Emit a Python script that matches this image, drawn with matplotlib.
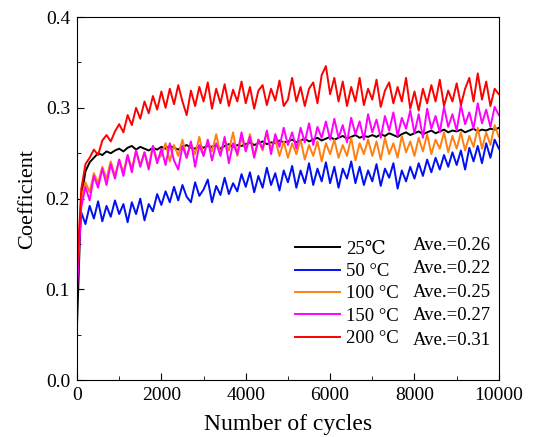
import matplotlib.pyplot as plt
import numpy as np
from matplotlib.ticker import MultipleLocator

plt.rcParams['font.family'] = ['Liberation Serif', 'DejaVu Serif']

# cycle positions of the read values (one reading every 100 cycles)
cycles = np.arange(0, 10001, 100)

labels = ['25\u2103', '50 \u00b0C', '100 \u00b0C', '150 \u00b0C', '200 \u00b0C']
averages = ['Ave.=0.26', 'Ave.=0.22', 'Ave.=0.25', 'Ave.=0.27', 'Ave.=0.31']
colors = ['black', '#0010f0', '#ff8010', '#ff00ff', '#ff0000']

c25 = [0.06, 0.20, 0.23, 0.24, 0.245, 0.25, 0.248, 0.252, 0.25, 0.253,
       0.255, 0.252, 0.256, 0.258, 0.254, 0.257, 0.255, 0.253, 0.256, 0.254,
       0.257, 0.255, 0.258, 0.256, 0.254, 0.257, 0.259, 0.256, 0.255, 0.258,
       0.256, 0.258, 0.257, 0.259, 0.255, 0.258, 0.26, 0.257, 0.259, 0.258,
       0.26, 0.262, 0.259, 0.261, 0.263, 0.26, 0.262, 0.261, 0.264, 0.262,
       0.263, 0.265, 0.262, 0.264, 0.266, 0.263, 0.265, 0.267, 0.264, 0.266,
       0.268, 0.265, 0.267, 0.269, 0.266, 0.268, 0.27, 0.267, 0.269, 0.268,
       0.27, 0.268, 0.271, 0.269, 0.272, 0.27, 0.268, 0.271, 0.273, 0.27,
       0.272, 0.274, 0.271, 0.273, 0.275, 0.272, 0.274, 0.276, 0.273, 0.275,
       0.274, 0.276, 0.273, 0.275, 0.277, 0.274, 0.276, 0.275, 0.277, 0.276,
       0.278]

c50 = [0.12, 0.185, 0.172, 0.192, 0.178, 0.197, 0.175, 0.192, 0.18, 0.198,
       0.183, 0.194, 0.174, 0.196, 0.183, 0.2, 0.176, 0.194, 0.186, 0.205,
       0.193, 0.208, 0.196, 0.213, 0.198, 0.215, 0.202, 0.196, 0.218, 0.203,
       0.21, 0.221, 0.196, 0.214, 0.204, 0.223, 0.205, 0.217, 0.208, 0.227,
       0.213, 0.229, 0.207, 0.225, 0.212, 0.234, 0.215, 0.228, 0.209, 0.231,
       0.218, 0.236, 0.212, 0.231, 0.217, 0.239, 0.215, 0.233, 0.219, 0.24,
       0.217, 0.235, 0.212, 0.233, 0.222, 0.241, 0.217, 0.235, 0.215, 0.231,
       0.219, 0.238, 0.214, 0.233, 0.223, 0.239, 0.211, 0.231, 0.219, 0.235,
       0.222, 0.239, 0.225, 0.243, 0.229, 0.245, 0.232, 0.248, 0.235, 0.251,
       0.237, 0.253, 0.232, 0.256, 0.241, 0.258, 0.239, 0.261, 0.245, 0.265,
       0.255]

c100 = [0.12, 0.2, 0.218, 0.207, 0.228, 0.217, 0.235, 0.222, 0.241, 0.225,
        0.243, 0.229, 0.248, 0.233, 0.253, 0.237, 0.251, 0.235, 0.258, 0.242,
        0.248, 0.261, 0.241, 0.259, 0.247, 0.265, 0.245, 0.261, 0.249, 0.268,
        0.247, 0.263, 0.252, 0.271, 0.249, 0.265, 0.253, 0.273, 0.247, 0.267,
        0.253, 0.271, 0.247, 0.265, 0.253, 0.273, 0.255, 0.265, 0.247, 0.263,
        0.245, 0.261, 0.249, 0.265, 0.243, 0.259, 0.247, 0.263, 0.241, 0.261,
        0.249, 0.265, 0.245, 0.259, 0.247, 0.267, 0.242, 0.261, 0.249, 0.265,
        0.247, 0.263, 0.243, 0.267, 0.249, 0.261, 0.245, 0.269, 0.251, 0.263,
        0.247, 0.267, 0.252, 0.271, 0.249, 0.265, 0.255, 0.273, 0.251, 0.269,
        0.255, 0.273, 0.253, 0.269, 0.257, 0.278, 0.255, 0.273, 0.259, 0.281,
        0.268]

c150 = [0.1, 0.19, 0.213, 0.198, 0.225, 0.212, 0.233, 0.215, 0.238, 0.222,
        0.243, 0.225, 0.248, 0.229, 0.253, 0.235, 0.251, 0.232, 0.258, 0.239,
        0.255, 0.237, 0.261, 0.242, 0.232, 0.258, 0.245, 0.263, 0.235, 0.259,
        0.247, 0.265, 0.242, 0.261, 0.247, 0.268, 0.239, 0.261, 0.249, 0.273,
        0.252, 0.268, 0.245, 0.265, 0.255, 0.275, 0.249, 0.271, 0.257, 0.278,
        0.259, 0.273, 0.255, 0.278, 0.262, 0.283, 0.259, 0.279, 0.267, 0.285,
        0.265, 0.288, 0.267, 0.281, 0.262, 0.289, 0.271, 0.285, 0.265, 0.293,
        0.273, 0.287, 0.267, 0.291, 0.275, 0.295, 0.269, 0.289, 0.277, 0.297,
        0.272, 0.293, 0.267, 0.299, 0.277, 0.291, 0.273, 0.301, 0.279, 0.293,
        0.275, 0.303, 0.282, 0.295, 0.277, 0.305, 0.283, 0.298, 0.279, 0.301,
        0.292]

c200 = [0.12, 0.21, 0.238, 0.245, 0.254, 0.248, 0.264, 0.27, 0.263, 0.274,
        0.282, 0.273, 0.292, 0.281, 0.3, 0.288, 0.307, 0.294, 0.313, 0.298,
        0.318, 0.3, 0.321, 0.304, 0.325, 0.307, 0.292, 0.319, 0.302, 0.323,
        0.307, 0.328, 0.299, 0.321, 0.305, 0.326, 0.302, 0.32, 0.307, 0.329,
        0.305, 0.323, 0.299, 0.319, 0.325, 0.303, 0.321, 0.308, 0.33, 0.302,
        0.309, 0.333, 0.307, 0.323, 0.302, 0.321, 0.328, 0.305, 0.336, 0.346,
        0.315, 0.333, 0.307, 0.329, 0.302, 0.323, 0.307, 0.333, 0.303, 0.321,
        0.309, 0.331, 0.301, 0.319, 0.328, 0.305, 0.323, 0.307, 0.333, 0.299,
        0.318, 0.297, 0.321, 0.305, 0.325, 0.307, 0.331, 0.302, 0.319, 0.307,
        0.327, 0.303, 0.321, 0.333, 0.307, 0.338, 0.309, 0.329, 0.302, 0.321,
        0.315]

series = [c25, c50, c100, c150, c200]

fig = plt.figure(figsize=(5.5, 4.37), dpi=100)
ax = fig.add_axes([0.14, 0.13, 0.767, 0.831])

for ys, lab, col in zip(series, labels, colors):
    ax.plot(cycles, ys, color=col, lw=1.4, label=lab)

ax.set_xlim(0, 10000)
ax.set_ylim(0.0, 0.4)
ax.xaxis.set_major_locator(MultipleLocator(2000))
ax.xaxis.set_minor_locator(MultipleLocator(1000))
ax.yaxis.set_major_locator(MultipleLocator(0.1))
ax.yaxis.set_minor_locator(MultipleLocator(0.05))
ax.yaxis.set_major_formatter(plt.FormatStrFormatter('%.1f'))
ax.tick_params(which='both', direction='in', labelsize=14)
ax.tick_params(which='major', length=5, pad=5)
ax.tick_params(which='minor', length=3)
ax.set_xlabel('Number of cycles', fontsize=17, labelpad=7)
ax.set_ylabel('Coefficient', fontsize=16, labelpad=6)

leg = ax.legend(loc='upper left', bbox_to_anchor=(0.5, 0.405), frameon=False,
                fontsize=13.5, handlelength=2.4, handletextpad=0.3,
                labelspacing=0.28, borderaxespad=0)

ys_txt = [0.372, 0.307, 0.242, 0.178, 0.110]
for t, yy in zip(averages, ys_txt):
    ax.text(0.795, yy, t, transform=ax.transAxes, fontsize=13.5, va='center')

fig.savefig('out.png', dpi=100)
